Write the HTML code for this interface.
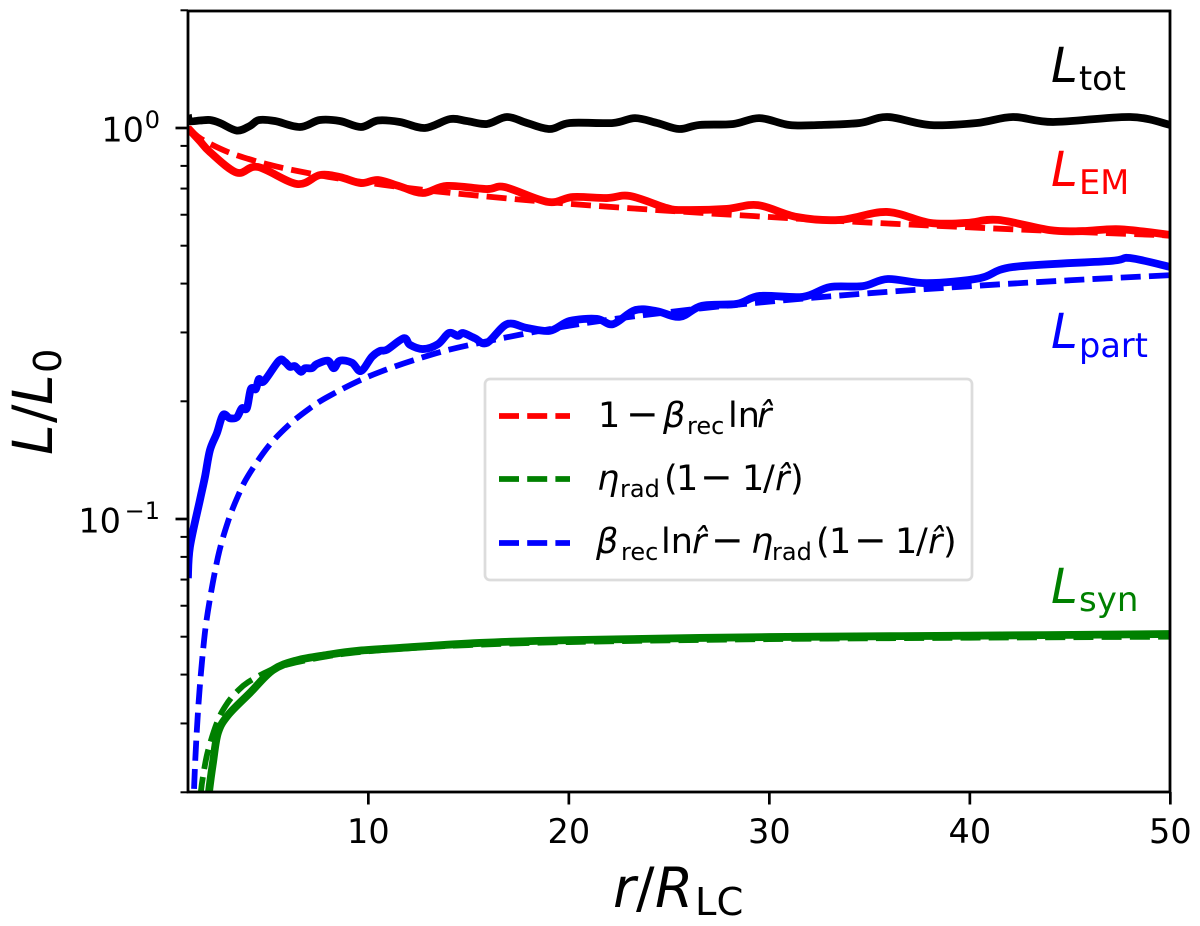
<!DOCTYPE html>
<html>
<head>
<meta charset="utf-8">
<title>Luminosity vs radius</title>
<style>
html,body{margin:0;padding:0;background:#fff;}
svg{display:block;}
text{font-family:"DejaVu Sans","Liberation Sans",sans-serif;}
.it{font-style:oblique;}
</style>
</head>
<body>
<svg id="chart" xmlns="http://www.w3.org/2000/svg" width="1200" height="926" viewBox="0 0 1200 926">
  <rect x="0" y="0" width="1200" height="926" fill="#fff"/>
  <defs><clipPath id="plot-clip"><rect x="188" y="11" width="982" height="781"/></clipPath></defs>
  <g id="series" clip-path="url(#plot-clip)"></g>
  <g id="ticks"></g>
  <g id="tick-labels"></g>
  <rect x="188" y="11" width="982" height="781" fill="none" stroke="#000" stroke-width="2.8"/>

  <text y="907" font-size="55" fill="#000"><tspan class="it" x="613">r</tspan><tspan x="636">/</tspan><tspan class="it" x="655">R</tspan><tspan x="695" y="915" font-size="38.5">LC</tspan></text>
  <text transform="translate(52,455) rotate(-90)" font-size="55" fill="#000"><tspan class="it" x="0" y="0">L</tspan><tspan x="32" y="0">/</tspan><tspan class="it" x="50" y="0">L</tspan><tspan x="82" y="9" font-size="38.5">0</tspan></text>

  <text font-size="48" fill="#000"><tspan class="it" x="1051" y="82">L</tspan><tspan x="1079" y="90" font-size="33.6">tot</tspan></text>
  <text font-size="48" fill="#ff0000"><tspan class="it" x="1051" y="186">L</tspan><tspan x="1079" y="194" font-size="33.6">EM</tspan></text>
  <text font-size="48" fill="#0000ff"><tspan class="it" x="1051" y="348">L</tspan><tspan x="1079" y="357" font-size="33.6">part</tspan></text>
  <text font-size="48" fill="#008000"><tspan class="it" x="1051" y="603">L</tspan><tspan x="1079" y="611" font-size="34">syn</tspan></text>

  <g>
    <rect x="485" y="379" width="487" height="201" rx="5" ry="5" fill="#fff" fill-opacity="0.8" stroke="#dcdcdc" stroke-width="2.7"/>
    <line x1="499" y1="416" x2="570" y2="416" stroke="#ff0000" stroke-width="5.8" stroke-dasharray="20 8.2"/>
    <line x1="499" y1="479" x2="570" y2="479" stroke="#008000" stroke-width="5.8" stroke-dasharray="20 8.2"/>
    <line x1="499" y1="543" x2="570" y2="543" stroke="#0000ff" stroke-width="5.8" stroke-dasharray="20 8.2"/>
    <text font-size="35" fill="#000"><tspan x="598" y="427">1</tspan><tspan x="626" y="427" font-size="39">−</tspan><tspan class="it" x="663" y="427">β</tspan><tspan x="687" y="434" font-size="24">rec</tspan><tspan x="728" y="427">ln</tspan><tspan class="it" x="757" y="427">r̂</tspan></text>
    <text font-size="35" fill="#000"><tspan class="it" x="597" y="490">η</tspan><tspan x="620" y="497" font-size="24">rad</tspan><tspan x="664" y="490">(</tspan><tspan x="676" y="490">1</tspan><tspan x="700" y="490" font-size="39">−</tspan><tspan x="742" y="490">1</tspan><tspan x="763" y="490">/</tspan><tspan class="it" x="775" y="490">r̂</tspan><tspan x="790" y="490">)</tspan></text>
    <text font-size="35" fill="#000"><tspan class="it" x="596" y="553">β</tspan><tspan x="621" y="560" font-size="24">rec</tspan><tspan x="661" y="553">ln</tspan><tspan class="it" x="692" y="553">r̂</tspan><tspan x="711" y="553" font-size="39">−</tspan><tspan class="it" x="751" y="553">η</tspan><tspan x="772" y="560" font-size="24">rad</tspan><tspan x="816" y="553">(</tspan><tspan x="829" y="553">1</tspan><tspan x="854" y="553" font-size="39">−</tspan><tspan x="895" y="553">1</tspan><tspan x="916" y="553">/</tspan><tspan class="it" x="928" y="553">r̂</tspan><tspan x="943" y="553">)</tspan></text>
  </g>
</svg>
<script>
const totR = [1,1.1,1.6,2.1,2.6,3.44,4.09,4.54,5.34,6.59,7.58,8.58,9.63,10.48,11.57,12.82,14.07,14.91,15.91,16.91,17.91,19.06,20.05,22.2,23.3,24.4,25.5,26.5,28.2,29.5,31,32.5,34.5,35.9,38,40.35,42.15,44.15,48,50];
const totL = [1.079,1.042,1.045,1.048,1.03,0.985,1.012,1.048,1.042,1.006,1.048,1.042,1.006,1.045,1.036,1,1.054,1.042,1.024,1.067,1.03,0.994,1.03,1.03,1.06,1.03,0.994,1.018,1.024,1.06,1.018,1.018,1.03,1.067,1.018,1.03,1.067,1.036,1.067,1.018];

const emR = [1,1.6,2.1,3.44,4.49,6.44,7.58,8.58,9.63,10.48,11.57,12.72,13.92,15.91,16.81,18.96,20.2,21.9,23.05,24.89,25.69,27.88,29.43,31.37,33.52,35.86,38,39.85,41.4,43.99,45.64,47.48,50];
const emL = [1,0.926,0.868,0.769,0.795,0.719,0.758,0.749,0.723,0.736,0.709,0.682,0.711,0.698,0.706,0.647,0.666,0.662,0.67,0.624,0.617,0.621,0.635,0.592,0.582,0.61,0.572,0.572,0.582,0.548,0.545,0.551,0.533];

const partR = [1,1.1,1.6,1.85,2.1,2.45,2.75,3.09,3.44,3.69,3.94,4.14,4.39,4.54,4.79,5.54,5.84,6.09,6.34,6.64,6.84,7.18,7.43,7.98,8.28,8.58,9.18,9.63,10.18,10.58,10.93,11.77,12.07,12.72,13.47,14.02,14.47,14.72,15.31,15.91,16.91,17.91,19.06,20.05,21.4,22.2,23.29,24.39,25.54,26.64,28.38,29.53,31.67,33.02,34.67,35.91,37.86,40.5,42.15,46.99,47.98,50];
const partL = [0.0706,0.0848,0.1118,0.128,0.15,0.166,0.1845,0.181,0.182,0.192,0.192,0.215,0.215,0.228,0.225,0.254,0.252,0.245,0.246,0.238,0.243,0.243,0.249,0.254,0.243,0.254,0.251,0.239,0.26,0.269,0.271,0.29,0.279,0.272,0.28,0.299,0.294,0.299,0.29,0.282,0.315,0.308,0.303,0.321,0.325,0.315,0.342,0.34,0.329,0.351,0.355,0.372,0.37,0.392,0.394,0.411,0.401,0.413,0.441,0.457,0.465,0.441];

const synR = [2,2.05,2.25,2.5,3,4.09,5.24,6.44,7.93,9.43,11.57,15.56,20.05,30,40,50];
const synL = [0.0185,0.02,0.0238,0.0284,0.0315,0.0359,0.0411,0.0435,0.0449,0.046,0.0468,0.0482,0.049,0.0499,0.0503,0.0508];

const modelEmR = [1,1.5,2,3,4,5,6,8,10,12.5,15,20,25,30,35,40,45,50];
const modelEmL = [1,0.951,0.917,0.868,0.834,0.807,0.785,0.75,0.724,0.697,0.675,0.64,0.614,0.592,0.573,0.557,0.543,0.531];

const modelSynR = [1.5,1.64,1.75,2,2.5,3,3.5,4,5,6,8,10,12.5,15,20,30,40,50];
const modelSynL = [0.0165,0.0199,0.0219,0.0255,0.0306,0.034,0.0364,0.03825,0.0408,0.0425,0.0446,0.0459,0.0469,0.0476,0.04845,0.0493,0.0497,0.05];

const modelPartR = [1.15,1.3,1.5,1.75,2,2.5,3,3.5,4,5,6,7,8,10,12.5,15,20,25,30,35,40,45,50];
const modelPartL = [0.0105,0.02,0.032,0.0458,0.0582,0.08,0.0985,0.1146,0.1289,0.1531,0.1733,0.1906,0.2057,0.2313,0.2571,0.2783,0.312,0.3383,0.3598,0.378,0.3939,0.4079,0.4204];

const xTickValues = [10,20,30,40,50];
const yMajorValues = [1,0.1];
const yMajorExponents = ['0','−1'];
const yMinorValues = [2,0.9,0.8,0.7,0.6,0.5,0.4,0.3,0.2,0.09,0.08,0.07,0.06,0.05,0.04,0.03,0.02];

const xScale = r => 187.9 + (r - 1) * 20.05;
const yScale = v => 128 - Math.log10(v) * 391;
const SVGNS = 'http://www.w3.org/2000/svg';
const seriesGroup = document.getElementById('series');
const tickGroup = document.getElementById('ticks');
const labelGroup = document.getElementById('tick-labels');

function pathFrom(rs, ls) {
  const p = rs.map((r, i) => [xScale(r), yScale(ls[i])]);
  let d = 'M' + p[0][0].toFixed(2) + ' ' + p[0][1].toFixed(2);
  for (let i = 0; i < p.length - 1; i++) {
    const a = p[Math.max(i - 1, 0)], b = p[i], c = p[i + 1], e = p[Math.min(i + 2, p.length - 1)];
    const c1x = b[0] + (c[0] - a[0]) / 6, c1y = b[1] + (c[1] - a[1]) / 6;
    const c2x = c[0] - (e[0] - b[0]) / 6, c2y = c[1] - (e[1] - b[1]) / 6;
    d += 'C' + c1x.toFixed(2) + ' ' + c1y.toFixed(2) + ' ' + c2x.toFixed(2) + ' ' + c2y.toFixed(2) + ' ' + c[0].toFixed(2) + ' ' + c[1].toFixed(2);
  }
  return d;
}

function drawLine(rs, ls, color, width, dashed) {
  const el = document.createElementNS(SVGNS, 'path');
  el.setAttribute('d', pathFrom(rs, ls));
  el.setAttribute('fill', 'none');
  el.setAttribute('stroke', color);
  el.setAttribute('stroke-width', width);
  el.setAttribute('stroke-linejoin', 'round');
  if (dashed) el.setAttribute('stroke-dasharray', '20 8.2');
  seriesGroup.appendChild(el);
  return el;
}

const lineTot = drawLine(totR, totL, '#000000', 7.8, false);


const lineEm = drawLine(emR, emL, '#ff0000', 7.8, false);


const linePart = drawLine(partR, partL, '#0000ff', 7.8, false);


const lineSyn = drawLine(synR, synL, '#008000', 7.8, false);


const lineModelEm = drawLine(modelEmR, modelEmL, '#ff0000', 5.8, true);


const lineModelSyn = drawLine(modelSynR, modelSynL, '#008000', 5.8, true);


const lineModelPart = drawLine(modelPartR, modelPartL, '#0000ff', 5.8, true);



function makeLine(x1, y1, x2, y2, w) {
  const el = document.createElementNS(SVGNS, 'line');
  el.setAttribute('x1', x1);
  el.setAttribute('y1', y1);
  el.setAttribute('x2', x2);
  el.setAttribute('y2', y2);
  el.setAttribute('stroke', '#000');
  el.setAttribute('stroke-width', w);
  tickGroup.appendChild(el);
  return el;
}

function makeText(x, y, size, anchor, content) {
  const el = document.createElementNS(SVGNS, 'text');
  el.setAttribute('x', x);
  el.setAttribute('y', y);
  el.setAttribute('font-size', size);
  el.setAttribute('text-anchor', anchor);
  el.setAttribute('fill', '#000');
  el.textContent = content;
  labelGroup.appendChild(el);
  return el;
}

xTickValues.forEach(v => {
  const t = makeLine(xScale(v), 792, xScale(v), 804.5, 2.7);
  
  
  const l = makeText(xScale(v), 843, 33.5, 'middle', String(v));
  
  
});

yMajorValues.forEach((v, i) => {
  const t = makeLine(175.5, yScale(v), 188, yScale(v), 2.7);
  
  
  const base = makeText(i === 0 ? 144 : 121, yScale(v) + 13.5, 33.5, 'end', '10');
  
  
  const sup = makeText(160, yScale(v), 24, 'end', yMajorExponents[i]);
  
  
});

yMinorValues.forEach(v => {
  const t = makeLine(180.5, yScale(v), 188, yScale(v), 2);
  
  
});
</script>
</body>
</html>
